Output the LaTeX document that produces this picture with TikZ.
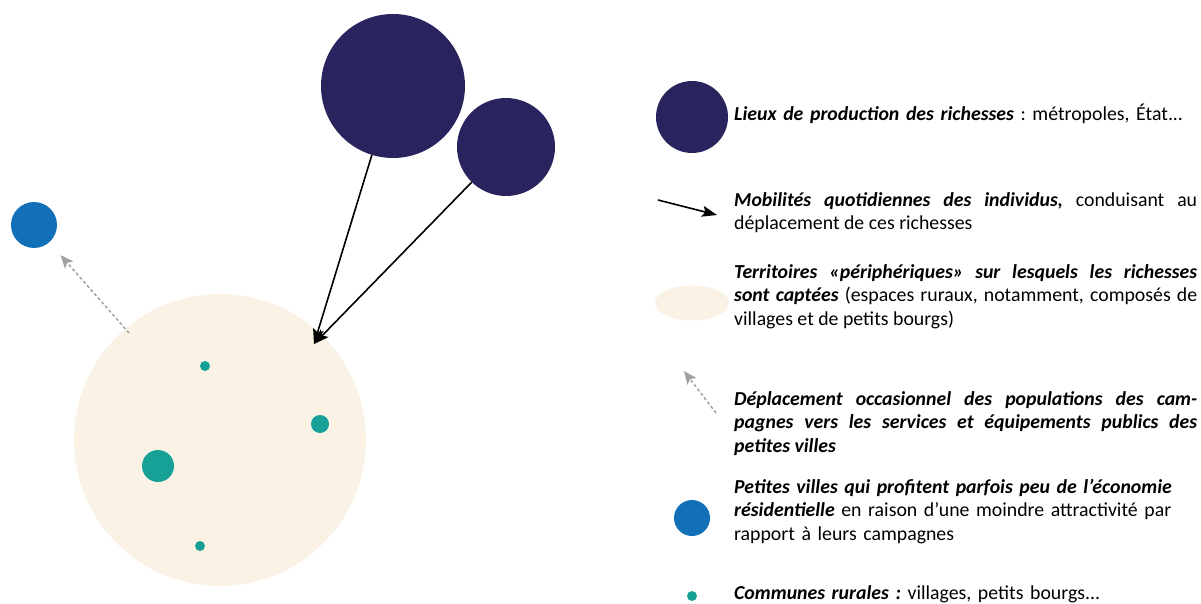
\documentclass[tikz,border=0pt]{standalone}
\usepackage{fontspec}
\setmainfont{Carlito}
\usetikzlibrary{arrows.meta,shapes.geometric}
\definecolor{navy}{HTML}{2A245E}
\definecolor{cityblue}{HTML}{1170B8}
\definecolor{beige}{HTML}{FBF2E6}
\definecolor{teal}{HTML}{17A096}
\definecolor{arrowgrey}{HTML}{A0A0A0}
\frenchspacing
\tikzset{
  dot/.style={circle, inner sep=0pt, minimum size=#1},
  flow/.style={line width=1.6pt, -{Stealth[length=15pt,width=11pt,inset=3pt]}},
  occas/.style={line width=1.5pt, arrowgrey, dash pattern=on 3pt off 2.5pt, -{Stealth[length=13pt,width=11pt,inset=3pt]}},
  legtext/.style={anchor=base west, inner sep=0pt, text width=463pt, font=\fontsize{19.8pt}{23.8pt}\selectfont},
}
\begin{document}
\begin{tikzpicture}[x=1pt,y=-1pt]
\useasboundingbox (0,0) rectangle (1201,604);
% diagram
\node[dot=292pt, fill=beige] (terr) at (220,440) {};
\node[dot=144pt, fill=navy] (m1) at (393,86) {};
\node[dot=98pt, fill=navy] (m2) at (506,147) {};
\node[dot=46pt, fill=cityblue] (pv) at (34,225) {};
\node[dot=10pt, fill=teal] (c1) at (205,366) {};
\node[dot=18pt, fill=teal] (c2) at (320,424) {};
\node[dot=32pt, fill=teal] (c3) at (158,466) {};
\node[dot=10pt, fill=teal] (c4) at (200,546) {};
\coordinate (tip) at (314,344);
\coordinate (occstart) at (129,333);
\draw[flow] (m1) -- (tip);
\draw[flow] (m2) -- (tip);
\draw[occas, shorten >=17pt] (occstart) -- (pv);
% legend symbols
\node[dot=72pt, fill=navy] (lm) at (692,117) {};
\coordinate (la1) at (658,200);
\coordinate (la2) at (717,215);
\draw[flow] (la1) -- (la2);
\node[ellipse, fill=beige, inner sep=0pt, minimum width=74pt, minimum height=35pt] (lt) at (692,303) {};
\coordinate (lo1) at (716,413);
\coordinate (lo2) at (684,371);
\draw[occas] (lo1) -- (lo2);
\node[dot=36pt, fill=cityblue] (lp) at (692,518) {};
\node[dot=10pt, fill=teal] (lc) at (692,596) {};
% legend texts
\node[legtext, align=left] (t1) at (734,121) {\textbf{\textit{Lieux de production des richesses}} : métropoles, État.{}.{}.};
\node[legtext, align=justify] (t2) at (734,206) {\textbf{\textit{Mobilités quotidiennes des individus,}} conduisant au\linebreak déplacement de ces richesses};
\node[legtext, align=justify] (t3) at (734,278) {\textbf{\textit{Territoires «périphériques» sur lesquels les richesses}}\linebreak \textbf{\textit{sont captées}} (espaces ruraux, notamment, composés de\linebreak villages et de petits bourgs)};
\node[legtext, align=justify] (t4) at (734,405) {\textbf{\textit{Déplacement occasionnel des populations des cam-\linebreak pagnes vers les services et équipements publics des\linebreak petites villes}}};
\node[legtext, align=left] (t5) at (734,493) {\textbf{\textit{Petites villes qui profitent parfois peu de l’économie}}\\ \textbf{\textit{résidentielle}} en raison d’une moindre attractivité par\\ rapport à leurs campagnes};
\node[legtext, align=left] (t6) at (734,599) {\textbf{\textit{Communes rurales :}} villages, petits bourgs.{}.{}.};
\end{tikzpicture}
\end{document}
